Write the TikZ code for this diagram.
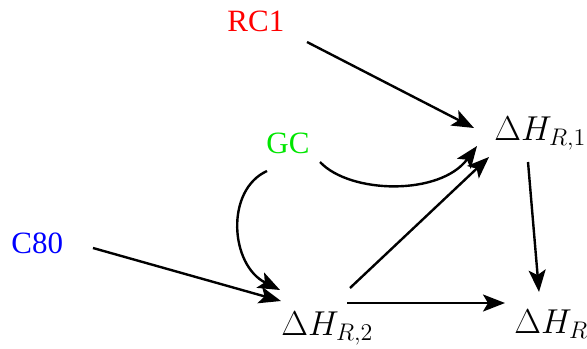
\documentclass[tikz,border=0pt]{standalone}
\usepackage{fontspec}
\setmainfont{Liberation Serif}
\usetikzlibrary{arrows.meta}
\begin{document}
\begin{tikzpicture}[x=0.5pt,y=-0.5pt,
  lbl/.style={inner sep=0pt,anchor=base west,font=\fontsize{15.5}{18}\selectfont},
  mth/.style={inner sep=0pt,anchor=base west,font=\fontsize{16.5}{20}\selectfont},
  arr/.style={line width=1.2pt,-{Stealth[length=11pt,width=8.5pt,inset=2.5pt]}}]
\useasboundingbox (0,0) rectangle (587,348);
\definecolor{cred}{RGB}{255,0,0}
\definecolor{cgreen}{RGB}{0,230,0}
\definecolor{cblue}{RGB}{0,0,255}
\node[lbl,text=cred] (rc1) at (227,32) {RC1};
\node[lbl,text=cgreen] (gc) at (266,153) {GC};
\node[lbl,text=cblue] (c80) at (11,253) {C80};
\node[mth] (r1) at (494,140) {$\Delta H_{R,1}$};
\node[mth] (r2) at (281,335) {$\Delta H_{R,2}$};
\node[mth] (rr) at (514,333) {$\Delta H_{R}$};
\draw[arr] ([shift={(80,10)}]rc1.base west) -- ([shift={(-20,-12)}]r1.base west);
\draw[arr] ([shift={(54,9)}]gc.base west) .. controls (350,194) and (440,196) .. ([shift={(-17,6)}]r1.base west);
\draw[arr] ([shift={(1,18)}]gc.base west) .. controls (225,190) and (230,265) .. ([shift={(-1,-45)}]r2.base west);
\draw[arr] ([shift={(82,-5)}]c80.base west) -- ([shift={(0,-34)}]r2.base west);
\draw[arr] ([shift={(69,-47)}]r2.base west) -- ([shift={(-5,17)}]r1.base west);
\draw[arr] ([shift={(66,-32)}]r2.base west) -- ([shift={(-9,-30)}]rr.base west);
\draw[arr] ([shift={(34,22)}]r1.base west) -- ([shift={(25,-41)}]rr.base west);
\end{tikzpicture}
\end{document}
